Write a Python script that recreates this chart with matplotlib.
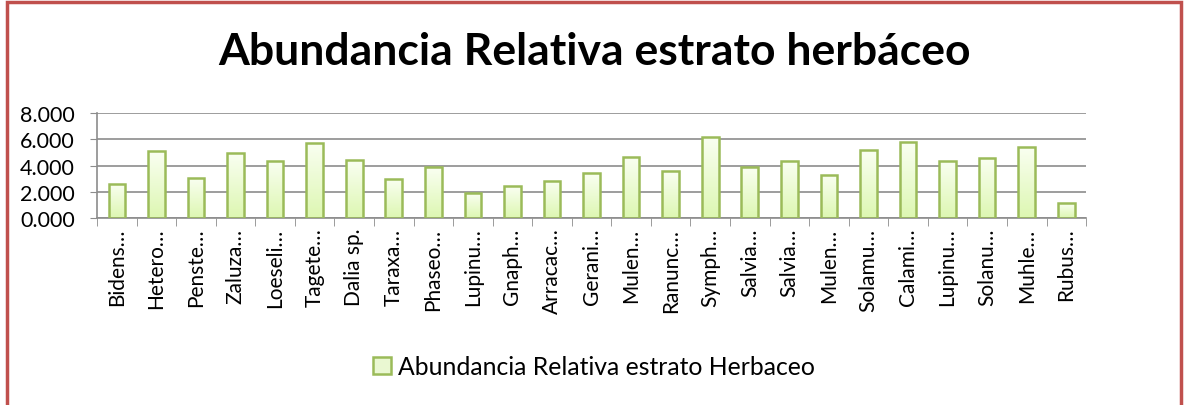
import matplotlib.pyplot as plt
import numpy as np
from matplotlib.colors import LinearSegmentedColormap
from matplotlib.patches import Rectangle

plt.rcParams["font.family"] = ["Lato", "DejaVu Sans"]

# datos
especies = [
    "Bidens…", "Hetero…", "Penste…", "Zaluza…", "Loeseli…", "Tagete…",
    "Dalia sp.", "Taraxa…", "Phaseo…", "Lupinu…", "Gnaph…", "Arracac…",
    "Gerani…", "Mulen…", "Ranunc…", "Symph…", "Salvia…", "Salvia…",
    "Mulen…", "Solamu…", "Calami…", "Lupinu…", "Solanu…", "Muhle…", "Rubus…",
]
abundancia = [
    2.60, 5.10, 3.08, 4.99, 4.36, 5.76, 4.43, 2.98, 3.87, 1.91, 2.42, 2.85,
    3.41, 4.69, 3.59, 6.22, 3.87, 4.36, 3.29, 5.20, 5.78, 4.38, 4.61, 5.45, 1.12,
]
y_ticks = [0, 2, 4, 6, 8]

edge_green = "#9BBB59"
grid_gray = "#8C8C8C"
border_red = "#C0504D"

fig = plt.figure(figsize=(11.88, 4.06), dpi=100)

# borde rojo del cuadro del grafico
fig.patches.append(Rectangle((0.006, -0.05), 0.988, 1.042, transform=fig.transFigure,
                             fill=False, edgecolor=border_red, linewidth=2.5))

ax = fig.add_axes([0.0817, 0.4606, 0.8325, 0.2579])
x = np.arange(len(especies))
bars = ax.bar(x, abundancia, width=0.42, color="none", edgecolor=edge_green,
              linewidth=1.8, zorder=3)

# degradado blanco -> verde claro dentro de cada barra
cmap = LinearSegmentedColormap.from_list("verde", ["#DDF7B2", "#FAFFF2"])
grad = np.linspace(0, 1, 100).reshape(-1, 1)
for b in bars:
    im = ax.imshow(grad, cmap=cmap, aspect="auto", origin="lower",
                   extent=(b.get_x(), b.get_x() + b.get_width(), 0, b.get_height()),
                   zorder=2)
    im.set_clip_path(b)

ax.set_xlim(-0.5, len(especies) - 0.5)
ax.set_ylim(0, 8)
ax.set_yticks(y_ticks)
ax.set_yticklabels([f"{v:.3f}" for v in y_ticks], fontsize=15.5)
ax.set_xticks(x)
ax.set_xticklabels(especies, rotation=90, fontsize=15)
ax.set_xticks(np.arange(-0.5, len(especies)), minor=True)
ax.tick_params(axis="x", which="major", length=0, pad=7)
ax.tick_params(axis="x", which="minor", length=6, color=grid_gray)
ax.tick_params(axis="y", length=5, color=grid_gray, pad=11)
ax.yaxis.grid(True, color=grid_gray, linewidth=1.2, zorder=0)
ax.set_axisbelow(True)
for s in ["top", "right"]:
    ax.spines[s].set_visible(False)
ax.spines["left"].set_color(grid_gray)
ax.spines["bottom"].set_color(grid_gray)
ax.spines["left"].set_linewidth(1.2)
ax.spines["bottom"].set_linewidth(1.2)

fig.text(0.5, 0.872, "Abundancia Relativa estrato herbáceo", ha="center", va="center",
         fontsize=32, fontweight="bold")

handle = Rectangle((0, 0), 1, 1, facecolor="#EAF8D2", edgecolor=edge_green, linewidth=1.8)
fig.legend([handle], ["Abundancia Relativa estrato Herbaceo"], loc="center",
           bbox_to_anchor=(0.5, 0.094), frameon=False, fontsize=17.8,
           handlelength=0.7, handleheight=0.7, handletextpad=0.3)

fig.savefig("out.png", dpi=100)
